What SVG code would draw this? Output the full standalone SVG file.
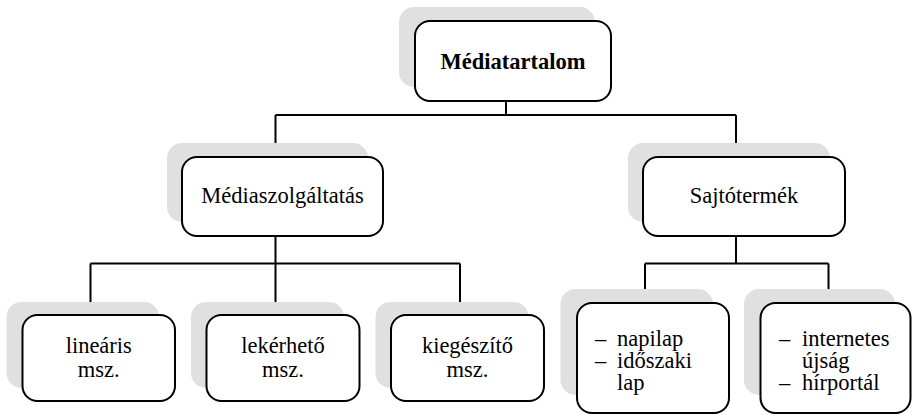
<svg xmlns="http://www.w3.org/2000/svg" width="912" height="415" viewBox="0 0 912 415">
<style>
.sh{fill:#e0e0e0;stroke:none}
.bx{fill:#fff;stroke:#000;stroke-width:2}
.ln{fill:none;stroke:#000;stroke-width:2}
.t{font-family:"Liberation Serif",Tinos,"Times New Roman","DejaVu Serif","Noto Serif",serif;font-size:22.5px;fill:#000}
.c{text-anchor:middle}
.b{font-weight:bold}
</style>
<rect width="912" height="415" fill="#fff"/>
<g id="connectors">
<path class="ln" d="M506,101V115M275.5,115H736M275.5,115V143M736,115V143"/>
<path class="ln" d="M275.5,236V263.5M90.5,263.5H460M90.5,263.5V302M275.5,263.5V302M460,263.5V302"/>
<path class="ln" d="M736,236V263.5M645,263.5H828.5M645,263.5V289M828.5,263.5V289"/>
</g>
<g id="n-mediatartalom">
<rect class="sh" x="399" y="7" width="196" height="80" rx="15"/>
<rect class="bx" x="415" y="21" width="196" height="80" rx="15"/>
<text class="t c b" x="513" y="68.5">Médiatartalom</text>
</g>
<g id="n-mediaszolgaltatas">
<rect class="sh" x="167" y="143" width="201" height="79" rx="15"/>
<rect class="bx" x="182" y="157" width="201" height="79" rx="15"/>
<text class="t c" x="282.5" y="203">Médiaszolgáltatás</text>
</g>
<g id="n-sajtotermek">
<rect class="sh" x="628" y="143" width="202" height="79" rx="15"/>
<rect class="bx" x="643" y="157" width="202" height="79" rx="15"/>
<text class="t c" x="744" y="203">Sajtótermék</text>
</g>
<g id="n-linearis">
<rect class="sh" x="6.5" y="302" width="152.5" height="86" rx="15"/>
<rect class="bx" x="22.5" y="315" width="152.5" height="86" rx="15"/>
<text class="t c" x="98.75" y="353">lineáris</text>
<text class="t c" x="98.75" y="377">msz.</text>
</g>
<g id="n-lekerheto">
<rect class="sh" x="191" y="302" width="153" height="86" rx="15"/>
<rect class="bx" x="206.5" y="315" width="153" height="86" rx="15"/>
<text class="t c" x="283" y="353">lekérhető</text>
<text class="t c" x="283" y="377">msz.</text>
</g>
<g id="n-kiegeszito">
<rect class="sh" x="375.5" y="302" width="153" height="86" rx="15"/>
<rect class="bx" x="391" y="315" width="153" height="86" rx="15"/>
<text class="t c" x="467.5" y="353">kiegészítő</text>
<text class="t c" x="467.5" y="377">msz.</text>
</g>
<g id="n-napilap">
<rect class="sh" x="560.5" y="289" width="152.5" height="106" rx="15"/>
<rect class="bx" x="577" y="303" width="152" height="110" rx="15"/>
<text class="t" x="595" y="345.5">– <tspan x="617">napilap</tspan></text>
<text class="t" x="595" y="367.5">– <tspan x="617">időszaki</tspan></text>
<text class="t" x="617" y="389.5">lap</text>
</g>
<g id="n-internetes">
<rect class="sh" x="744" y="289" width="151" height="106" rx="15"/>
<rect class="bx" x="760.5" y="303" width="150" height="110" rx="15"/>
<text class="t" x="779" y="345.5">– <tspan x="802">internetes</tspan></text>
<text class="t" x="802" y="367.5">újság</text>
<text class="t" x="779" y="389.5">– <tspan x="802">hírportál</tspan></text>
</g>
</svg>
